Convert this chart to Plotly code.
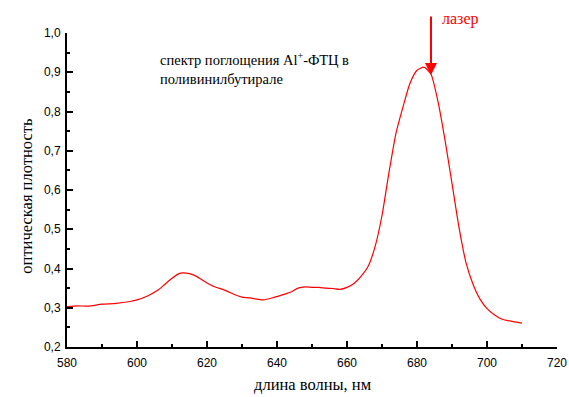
import plotly.graph_objects as go

wavelength = [580, 583, 586, 590, 594, 598, 600, 603, 606, 608, 610, 612, 613, 615, 617, 620, 622, 625, 628, 630, 633, 636, 639, 642, 644, 646, 648, 650, 652, 654, 656, 658, 660, 662, 664, 666, 668, 670, 672, 674, 676, 678, 680, 682, 684, 686, 688, 690, 692, 694, 696, 698, 700, 702, 704, 706, 708, 710]
absorbance = [0.303, 0.305, 0.304, 0.309, 0.311, 0.316, 0.320, 0.330, 0.345, 0.360, 0.375, 0.387, 0.389, 0.387, 0.380, 0.363, 0.354, 0.345, 0.333, 0.327, 0.324, 0.320, 0.326, 0.334, 0.340, 0.350, 0.353, 0.352, 0.352, 0.350, 0.349, 0.347, 0.352, 0.362, 0.380, 0.405, 0.455, 0.535, 0.645, 0.745, 0.812, 0.872, 0.905, 0.913, 0.895, 0.825, 0.727, 0.617, 0.505, 0.415, 0.360, 0.322, 0.298, 0.283, 0.272, 0.267, 0.264, 0.261]

laser_nm = 684
laser_top = 1.046
laser_tip = 0.893
laser_label = "лазер"

x_ticks = [580, 600, 620, 640, 660, 680, 700, 720]
y_ticks = [0.2, 0.3, 0.4, 0.5, 0.6, 0.7, 0.8, 0.9, 1.0]

SERIF = "Liberation Serif, Times New Roman, serif"
SANS = "Liberation Sans, Arial, sans-serif"

fig = go.Figure()
fig.add_trace(go.Scatter(x=wavelength, y=absorbance, mode="lines",
                         line=dict(color="#ff0000", width=1.2, shape="spline", smoothing=0.6),
                         showlegend=False, hoverinfo="skip"))

axis_common = dict(showgrid=False, zeroline=False, showline=True, linecolor="black",
                   linewidth=2, ticks="inside", tickcolor="black", tickwidth=2, ticklen=6,
                   automargin=False,
                   tickfont=dict(family=SANS, size=12, color="black"))

fig.update_layout(
    width=569, height=397,
    margin=dict(l=67, r=12, t=33, b=50),
    plot_bgcolor="white", paper_bgcolor="white",
    separators=", ",
    xaxis=dict(range=[580, 720], tickvals=x_ticks, ticktext=[str(v) for v in x_ticks],
               ticklabelstandoff=4,
               minor=dict(dtick=10, ticks="inside", ticklen=3, tickcolor="black", tickwidth=2),
               **axis_common),
    yaxis=dict(range=[0.2, 1.0], tickvals=y_ticks, tickformat=".1f",
               ticklabelstandoff=2,
               minor=dict(dtick=0.05, ticks="inside", ticklen=3, tickcolor="black", tickwidth=2),
               **axis_common),
)

# axis titles
fig.add_annotation(x=0.502, y=-0.12, xref="paper", yref="paper", xanchor="center", yanchor="middle",
                   text="длина волны, нм", showarrow=False,
                   font=dict(family=SERIF, size=16.5, color="black"))
fig.add_annotation(x=-0.083, y=0.483, xref="paper", yref="paper", xanchor="center", yanchor="middle",
                   text="оптическая плотность", textangle=-90, showarrow=False,
                   font=dict(family=SERIF, size=16.5, color="black"))

# laser arrow
fig.add_annotation(x=laser_nm, y=laser_tip, ax=laser_nm, ay=laser_top,
                   xref="x", yref="y", axref="x", ayref="y",
                   showarrow=True, arrowhead=2, arrowsize=1.2, arrowwidth=2, arrowcolor="#ff0000", text="")
fig.add_annotation(x=laser_nm + 2.5, y=1.046, xref="x", yref="paper", xanchor="left", yanchor="middle",
                   text=laser_label, showarrow=False,
                   font=dict(family=SERIF, size=16, color="#ff0000"))
fig.add_annotation(x=606, y=0.962, xref="x", yref="y", xanchor="left", yanchor="top", align="left",
                   text="спектр поглощения Al<sup>+</sup>-ФТЦ в<br>поливинилбутирале", showarrow=False,
                   font=dict(family=SERIF, size=14.5, color="black"))

fig.write_html("out.html", config={"displayModeBar": False},
               post_script="document.body.style.margin='0';document.body.style.overflow='hidden';")
